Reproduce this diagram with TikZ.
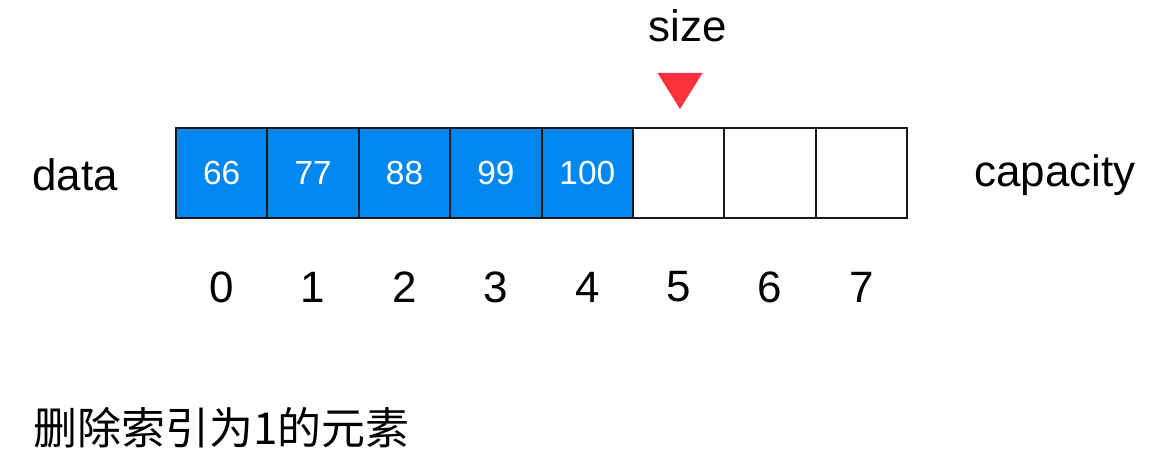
\documentclass[tikz,border=0pt]{standalone}
\usepackage{fontspec}
\setmainfont{Liberation Sans}
\newfontfamily\cjk{Noto Sans CJK SC}
\definecolor{cellblue}{RGB}{0,136,240}
\definecolor{sizered}{RGB}{250,50,62}
\tikzset{
  cell/.style={draw=black!90, line width=1.1pt, minimum width=1.83cm, minimum height=1.8cm, inner sep=0pt},
  full/.style={cell, fill=cellblue, text=white, font=\fontsize{19}{19}\selectfont},
  lbl/.style={font=\fontsize{25}{25}\selectfont}
}
\begin{document}
\begin{tikzpicture}[scale=1.0]

\useasboundingbox (0, 0) rectangle (23.42, 9.12);
\foreach \v [count=\i from 0] in {66,77,88,99,100} {
  \node [full] (c\i) at (4.434+1.828*\i, 5.66) {\v};
}
\foreach \i in {5,6,7} {
  \node [cell] (c\i) at (4.434+1.828*\i, 5.66) {};
}
\foreach \i in {0,...,7} {
  \node [lbl] (n\i) at (4.434+1.828*\i, 3.38) {\i};
}
\node [lbl] (data) at (1.5, 5.62) {data};
\node [lbl] (cap) at (21.1, 5.62) {capacity};
\node [lbl] (size) at (13.76, 8.6) {size};
\fill[sizered] (13.15, 7.66) -- (14.05, 7.66) -- (13.6, 6.94) -- cycle;
\node [lbl, anchor=west, inner sep=0pt] (task) at (0.66, 0.56) {\cjk 删除索引为1的元素};

\end{tikzpicture}
\end{document}
